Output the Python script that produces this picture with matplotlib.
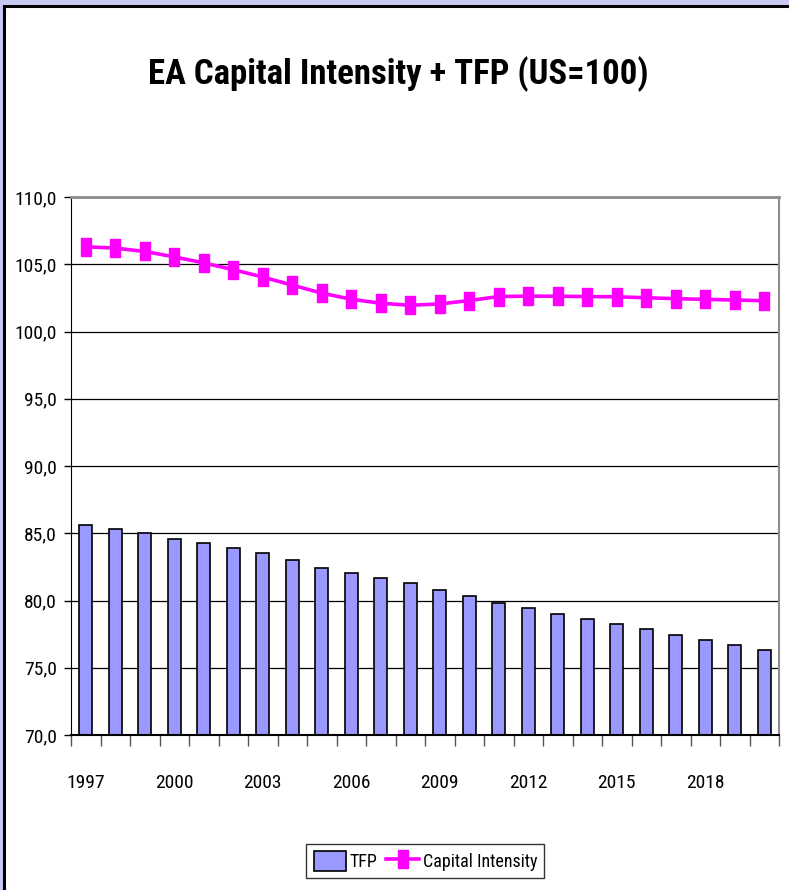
import matplotlib.pyplot as plt
import matplotlib.patches as mpatches
import numpy as np

plt.rcParams['font.family'] = ['Roboto Condensed', 'Liberation Sans Narrow',
                               'DejaVu Sans Condensed', 'Liberation Sans']
plt.rcParams['font.stretch'] = 'condensed'

# Werte
jahre = list(range(1997, 2021))
tfp = [85.6, 85.3, 85.0, 84.6, 84.3, 83.9, 83.5, 83.0, 82.4, 82.05, 81.7, 81.3,
       80.8, 80.35, 79.85, 79.45, 79.0, 78.65, 78.25, 77.9, 77.45, 77.05, 76.7, 76.3]
kapital = [106.3, 106.2, 105.95, 105.55, 105.1, 104.6, 104.05, 103.45, 102.85,
           102.4, 102.1, 101.95, 102.05, 102.3, 102.6, 102.63, 102.62, 102.6,
           102.58, 102.51, 102.44, 102.39, 102.34, 102.29]
y_ticks = [70, 75, 80, 85, 90, 95, 100, 105, 110]

fig = plt.figure(figsize=(7.89, 8.90), dpi=100)
fig.patch.set_facecolor('#c8c8f4')

# weisser Rahmen mit schwarzer Kante (links/oben sichtbar)
rahmen = mpatches.Rectangle((4 / 789, -0.1), 2, 1.1 - 6 / 890,
                            transform=fig.transFigure, facecolor='white',
                            edgecolor='black', linewidth=2.2, zorder=-1)
fig.add_artist(rahmen)

ax = fig.add_axes([71 / 789, 1 - 735 / 890, (779 - 71) / 789, (735 - 197) / 890])
ax.set_zorder(1)
ax.patch.set_facecolor('white')

x = np.arange(len(jahre))
balken = ax.bar(x, tfp, width=0.43, color='#9999ff', edgecolor='black',
                linewidth=1.2, label='TFP', zorder=2)

marker_rect = [(-1, -2), (1, -2), (1, 2), (-1, 2), (-1, -2)]
linie, = ax.plot(x, kapital, color='#ff00ff', linewidth=2.6, marker=marker_rect,
                 markersize=13, markerfacecolor='#ff00ff',
                 markeredgecolor='#ff00ff', label='Capital Intensity', zorder=3)

ax.set_xlim(-0.5, len(jahre) - 0.5)
ax.set_ylim(70, 110)

ax.set_yticks(y_ticks)
ax.set_yticklabels([f'{v:.1f}'.replace('.', ',') for v in y_ticks], fontsize=14)
ax.tick_params(axis='y', length=5, width=1, color='black', pad=5)

ax.set_xticks(x[::3])
ax.set_xticklabels([str(j) for j in jahre[::3]], fontsize=14)
ax.set_xticks(np.arange(-0.5, len(jahre)), minor=True)
ax.tick_params(axis='x', which='major', length=0, pad=28)
ax.tick_params(axis='x', which='minor', length=8, width=1, color='#555555')

ax.grid(axis='y', color='black', linewidth=0.9)
ax.set_axisbelow(True)

ax.spines['left'].set_color('black')
ax.spines['bottom'].set_color('black')
ax.spines['bottom'].set_linewidth(1.5)
ax.spines['top'].set_color('#8c8c8c')
ax.spines['top'].set_linewidth(2)
ax.spines['right'].set_color('#8c8c8c')
ax.spines['right'].set_linewidth(1.5)

fig.text(0.505, 0.917, 'EA Capital Intensity + TFP (US=100)', ha='center',
         va='center', fontsize=25, fontweight='bold')

leg = fig.legend([balken, linie], ['TFP', 'Capital Intensity'], loc='center',
                 bbox_to_anchor=(0.539, 0.0326), ncol=2, fontsize=13,
                 frameon=True, fancybox=False, edgecolor='black',
                 handlelength=1.8, handleheight=1.3, handletextpad=0.2,
                 columnspacing=0.5, borderpad=0.4)
leg.get_frame().set_linewidth(1)

fig.savefig('out.png', dpi=100, facecolor=fig.get_facecolor())
